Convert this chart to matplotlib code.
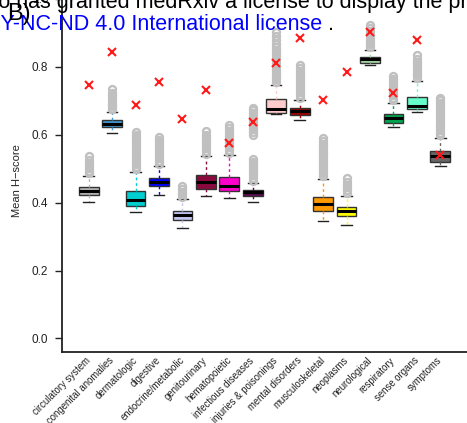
import matplotlib
matplotlib.use("Agg")
import matplotlib.pyplot as plt

plt.rcParams['font.family'] = ['Liberation Sans', 'DejaVu Sans']

# categories of disease (ICD chapters) and their colours
categories = ['circulatory system', 'congenital anomalies', 'dermatologic', 'digestive',
              'endocrine/metabolic', 'genitourinary', 'hematopoietic', 'infectious diseases',
              'injuries & poisonings', 'mental disorders', 'musculoskeletal', 'neoplasms',
              'neurological', 'respiratory', 'sense organs', 'symptoms']
colors = ['#B5B5B5', '#3F9AD3', '#00CED1', '#0000FF', '#C5C5F2', '#8B0A3E', '#FF00CC', '#5A0A50',
          '#FFCCCC', '#A00000', '#FF9900', '#FFFF00', '#A8D8A8', '#00A550', '#66FFCC', '#666666']

# null distribution summaries: whisker low, Q1, median, Q3, whisker high
whislo = [0.401, 0.604, 0.373, 0.423, 0.326, 0.421, 0.413, 0.402, 0.660, 0.644, 0.346, 0.335, 0.806, 0.623, 0.666, 0.507]
q1 = [0.423, 0.623, 0.391, 0.448, 0.350, 0.441, 0.433, 0.421, 0.664, 0.658, 0.374, 0.362, 0.811, 0.634, 0.676, 0.521]
med = [0.433, 0.633, 0.408, 0.462, 0.363, 0.460, 0.450, 0.430, 0.676, 0.669, 0.396, 0.374, 0.823, 0.648, 0.686, 0.536]
q3 = [0.446, 0.644, 0.435, 0.474, 0.376, 0.480, 0.477, 0.438, 0.705, 0.680, 0.416, 0.386, 0.830, 0.661, 0.711, 0.551]
whishi = [0.478, 0.668, 0.490, 0.507, 0.411, 0.536, 0.539, 0.457, 0.747, 0.701, 0.470, 0.421, 0.850, 0.693, 0.759, 0.590]

# outlying permutation values above the upper whisker
fliers = [
    [0.486, 0.494, 0.502, 0.510, 0.518, 0.526, 0.536],
    [0.676, 0.684, 0.692, 0.700, 0.708, 0.716, 0.722, 0.736],
    [0.498, 0.506, 0.514, 0.522, 0.530, 0.538, 0.546, 0.554, 0.562, 0.570, 0.578, 0.586, 0.594, 0.600, 0.608],
    [0.515, 0.523, 0.531, 0.539, 0.547, 0.555, 0.563, 0.571, 0.579, 0.586, 0.593],
    [0.418, 0.425, 0.432, 0.439, 0.448],
    [0.544, 0.552, 0.560, 0.568, 0.576, 0.584, 0.592, 0.600, 0.610],
    [0.547, 0.555, 0.563, 0.571, 0.579, 0.587, 0.595, 0.603, 0.612, 0.620, 0.629],
    [0.465, 0.473, 0.481, 0.489, 0.497, 0.505, 0.513, 0.520, 0.529,
     0.600, 0.608, 0.616, 0.624, 0.632, 0.640, 0.648, 0.656, 0.664, 0.672, 0.679],
    [0.755, 0.763, 0.771, 0.779, 0.787, 0.795, 0.803, 0.811, 0.819, 0.827, 0.835, 0.843, 0.851,
     0.859, 0.867, 0.878, 0.890, 0.904],
    [0.709, 0.717, 0.725, 0.733, 0.741, 0.749, 0.757, 0.765, 0.773, 0.781, 0.789, 0.797, 0.806],
    [0.478, 0.486, 0.494, 0.502, 0.510, 0.518, 0.526, 0.534, 0.542, 0.550, 0.558, 0.566, 0.574, 0.582, 0.590],
    [0.429, 0.437, 0.445, 0.453, 0.461, 0.474],
    [0.858, 0.866, 0.874, 0.882, 0.890, 0.898, 0.906, 0.914, 0.924],
    [0.701, 0.709, 0.717, 0.725, 0.733, 0.741, 0.749, 0.757, 0.765, 0.774],
    [0.767, 0.775, 0.783, 0.791, 0.799, 0.807, 0.815, 0.823, 0.835],
    [0.598, 0.606, 0.614, 0.622, 0.630, 0.638, 0.646, 0.654, 0.662, 0.670, 0.678, 0.686, 0.694, 0.701, 0.708],
]

# observed mean H-score per category
observed = [0.746, 0.844, 0.688, 0.754, 0.646, 0.732, 0.577, 0.637, 0.811, 0.884, 0.701, 0.784, 0.902, 0.724, 0.879, 0.539]

fig = plt.figure(figsize=(4.67, 4.23), dpi=100)
ax = fig.add_axes([62 / 467, 1 - 352 / 423, 1 - 62 / 467, (352 + 14.6) / 423])

pos = list(range(1, len(categories) + 1))
stats = []
for i in range(len(categories)):
    stats.append(dict(whislo=whislo[i], q1=q1[i], med=med[i], q3=q3[i], whishi=whishi[i], fliers=fliers[i]))

bp = ax.bxp(stats, positions=pos, widths=0.84, patch_artist=True,
            boxprops=dict(edgecolor='#333333', linewidth=1.0),
            medianprops=dict(color='black', linewidth=2.2),
            capprops=dict(color='#222222', linewidth=1.0),
            capwidths=0.45,
            flierprops=dict(marker='o', markerfacecolor='none', markeredgecolor='#C0C0C0',
                            markersize=5, markeredgewidth=1.7))
for i, c in enumerate(colors):
    bp['boxes'][i].set_facecolor(c)
    for w in bp['whiskers'][2 * i:2 * i + 2]:
        w.set_color(c)
        w.set_linestyle((0, (2, 2)))
        w.set_linewidth(1.0)

ax.plot(pos, observed, linestyle='none', marker='x', color='#FF1A1A', markersize=6, markeredgewidth=1.5, zorder=5)

ax.set_xlim(-0.14, 17.14)
ax.set_ylim(-0.04, 1.04)
ax.set_yticks([0.0, 0.2, 0.4, 0.6, 0.8, 1.0])
ax.set_yticklabels(['0.0', '0.2', '0.4', '0.6', '0.8', '1.0'])
ax.tick_params(axis='y', direction='out', length=5, width=1.0, labelsize=8.5, pad=5, colors='#222222')
ax.set_xticks(pos)
ax.set_xticklabels(categories, rotation=45, ha='right', va='center', rotation_mode='anchor', fontsize=6.9, color='#222222')
ax.tick_params(axis='x', length=0, pad=5)
ax.set_ylabel('Mean H\u2212score', fontsize=8, color='#222222')
ax.yaxis.set_label_coords(-0.100, (339 - 168) / 366.6, transform=ax.transAxes)

for s in ['top', 'right']:
    ax.spines[s].set_visible(False)
for s in ['left', 'bottom']:
    ax.spines[s].set_linewidth(1.3)
    ax.spines[s].set_color('#222222')

# page header overlay
W, H = 467, 423
fig.text(-29 / W, 1 - 8 / H, 'who has granted medRxiv a license to display the preprint in perpetuity.',
         fontsize=15.5, va='baseline', ha='left', color='black')
fig.text(322 / W, 1 - 30 / H, 'CC-BY-NC-ND 4.0 International license',
         fontsize=15.5, va='baseline', ha='right', color='#0000FF')
fig.text(328 / W, 1 - 30 / H, '.', fontsize=15.5, va='baseline', ha='left', color='black')
fig.text(7 / W, 1 - 20 / H, 'B)', fontsize=17, va='baseline', ha='left', color='black')

fig.savefig('out.png', dpi=100)
